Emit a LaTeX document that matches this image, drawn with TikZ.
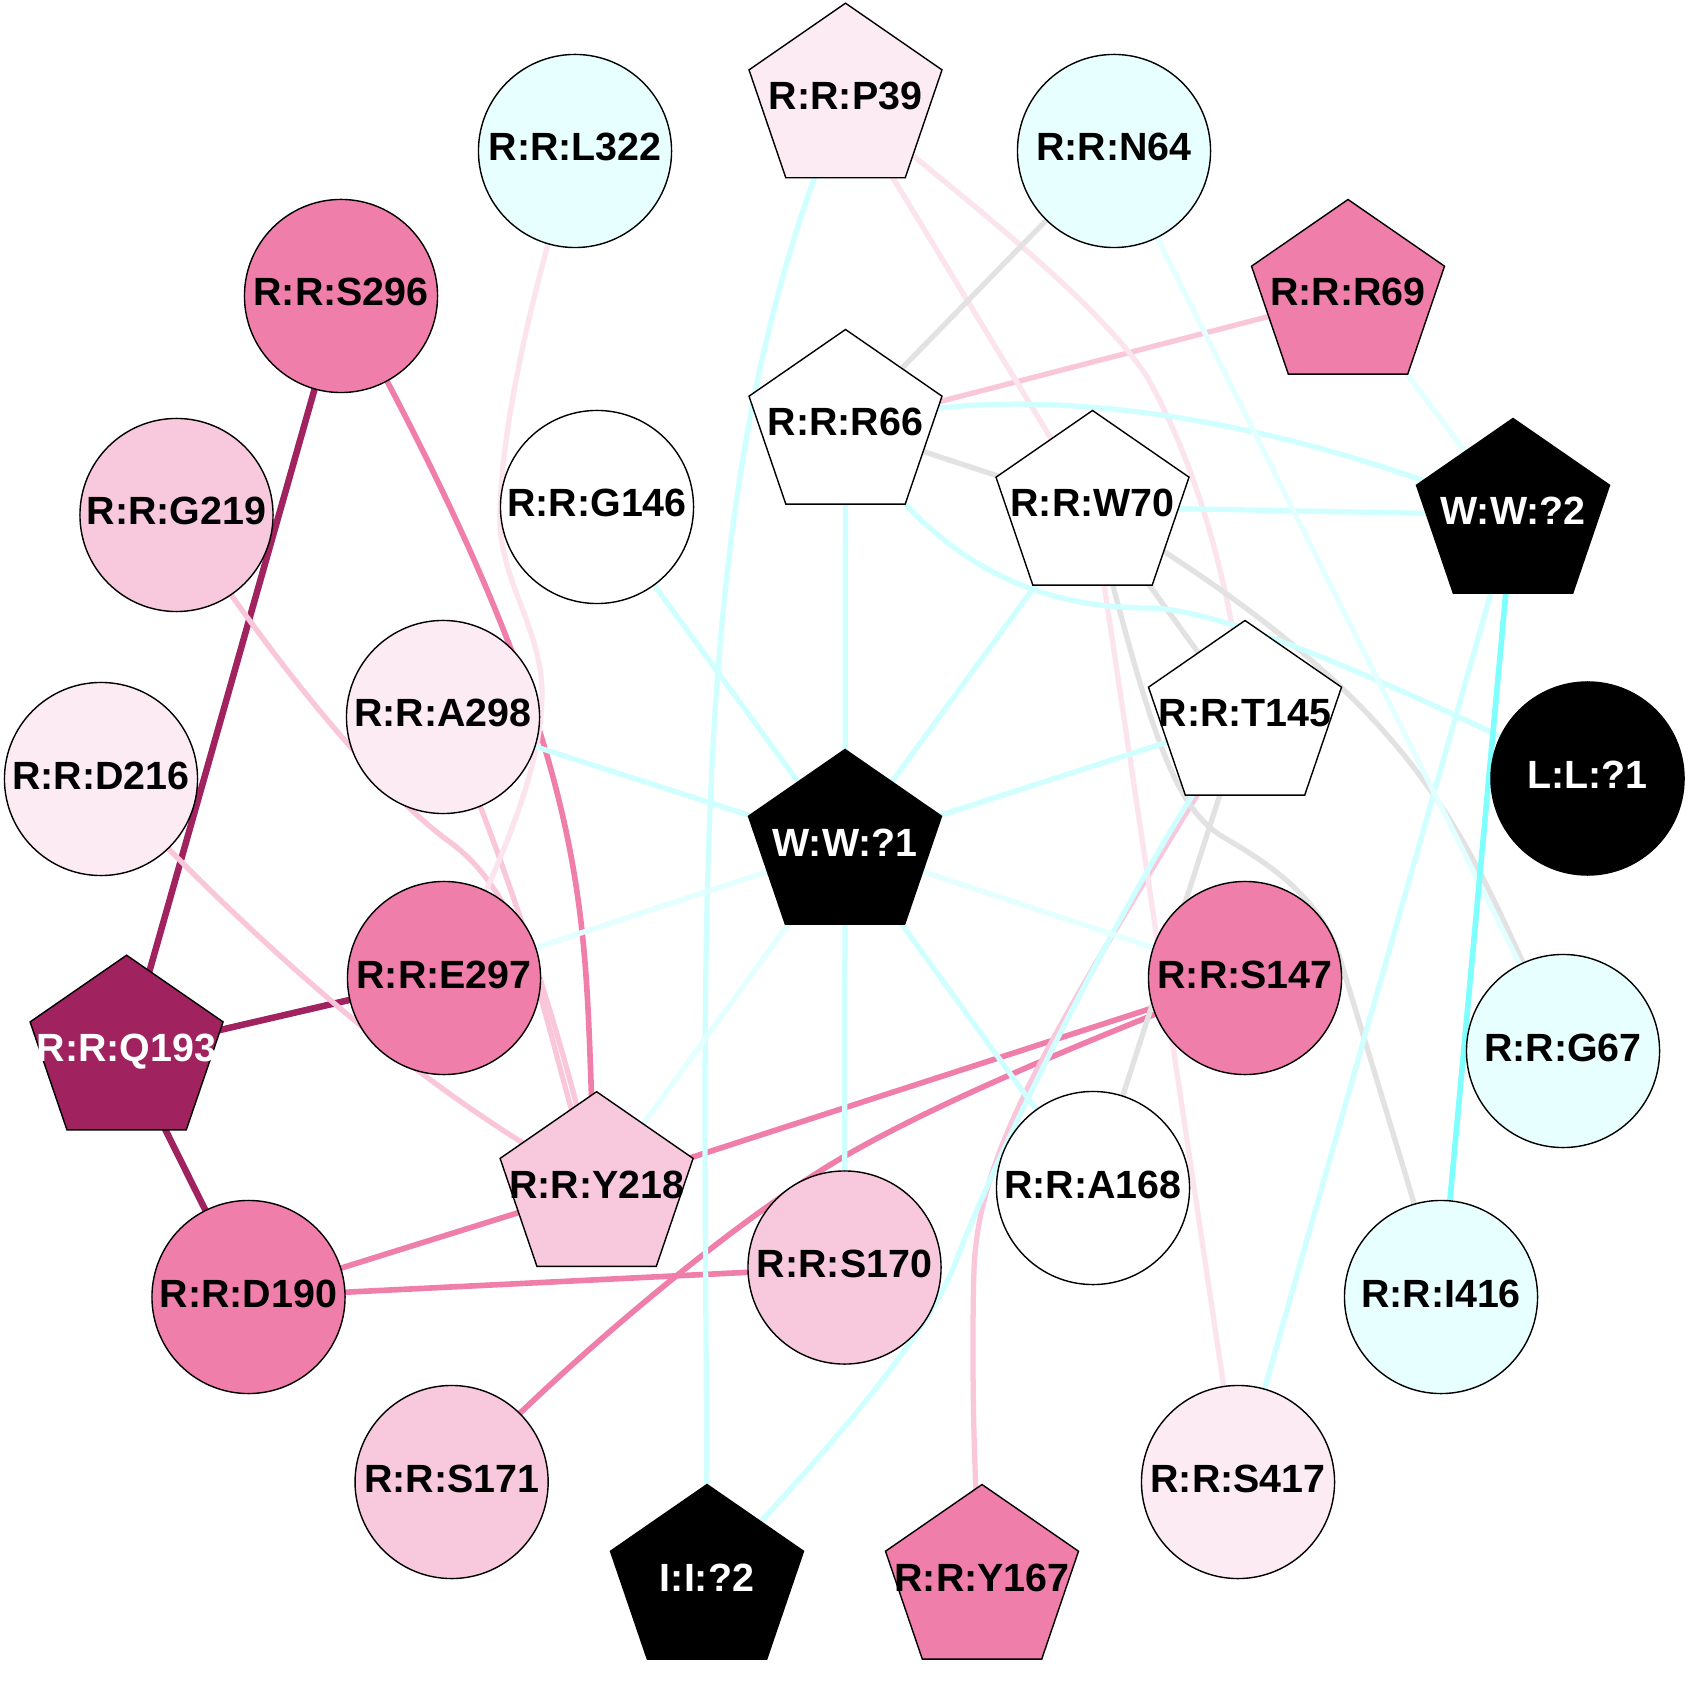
\documentclass[tikz,border=0pt]{standalone}
\usepackage{fontspec}
\setmainfont{Liberation Sans}
\pgfdeclarelayer{edges}
\pgfsetlayers{edges,main}
\definecolor{cHot}{HTML}{F07EAB}
\definecolor{cLP}{HTML}{F8C8DC}
\definecolor{cVLP}{HTML}{FCEBF3}
\definecolor{cDark}{HTML}{A0225E}
\definecolor{cLC}{HTML}{E8FFFF}
\definecolor{eLP}{HTML}{F9C6DA}
\definecolor{eVLP}{HTML}{FBE4EE}
\definecolor{eGrey}{HTML}{E2E2E2}
\definecolor{eCyan}{HTML}{D0FFFF}
\definecolor{eVLC}{HTML}{E4FFFF}
\definecolor{eBC}{HTML}{80FFFF}
\tikzset{
  cnode/.style={circle, draw=black, line width=0.4pt, minimum size=1.93cm, inner sep=0pt},
  lbl/.style={font=\fontsize{11.2}{13}\selectfont\bfseries, inner sep=0pt, anchor=base},
  pent/.style={draw=black, line width=0.4pt},
  edark/.style={draw=cDark, line width=1.85pt},
  ehot/.style={draw=cHot, line width=1.6pt},
  elp/.style={draw=eLP, line width=1.5pt},
  evlp/.style={draw=eVLP, line width=1.5pt},
  egrey/.style={draw=eGrey, line width=1.5pt},
  ecyan/.style={draw=eCyan, line width=1.5pt},
  evlc/.style={draw=eVLC, line width=1.5pt},
  ebc/.style={draw=eBC, line width=1.6pt}
}
\newcommand\circnode[6]{%
  \node[cnode,fill=#4] (#1) at (#2,#3) {};
  \node[lbl,text=#5] (#1-t) at ([shift={(0,10)}]#1.center) {#6};}
\newcommand\pentnode[6]{%
  \coordinate (#1) at (#2,#3);
  \filldraw[pent,fill=#4] ([shift={(0,-96.5)}]#1) -- ([shift={(96.5,-29.8)}]#1) -- ([shift={(59.7,78.1)}]#1) -- ([shift={(-59.7,78.1)}]#1) -- ([shift={(-96.5,-29.8)}]#1) -- cycle;
  \node[lbl,text=#5] (#1-t) at ([shift={(0,10)}]#1) {#6};}
\begin{document}
\begin{tikzpicture}[x=0.01cm,y=-0.01cm]
\useasboundingbox (0,0) rectangle (1689,1683);
% circles
\circnode{L322}{575}{151}{cLC}{black}{R:R:L322}
\circnode{N64}{1114}{151}{cLC}{black}{R:R:N64}
\circnode{S296}{341}{296}{cHot}{black}{R:R:S296}
\circnode{G219}{176.5}{515}{cLP}{black}{R:R:G219}
\circnode{G146}{597}{507}{white}{black}{R:R:G146}
\circnode{A298}{443}{717}{cVLP}{black}{R:R:A298}
\circnode{D216}{101}{779}{cVLP}{black}{R:R:D216}
\circnode{E297}{444}{978}{cHot}{black}{R:R:E297}
\circnode{S147}{1245}{978}{cHot}{black}{R:R:S147}
\circnode{L1}{1587.5}{778.5}{black}{white}{L:L:?1}
\circnode{G67}{1563}{1051}{cLC}{black}{R:R:G67}
\circnode{A168}{1093}{1188}{white}{black}{R:R:A168}
\circnode{S170}{844.5}{1267.5}{cLP}{black}{R:R:S170}
\circnode{D190}{248.5}{1297}{cHot}{black}{R:R:D190}
\circnode{I416}{1441}{1297}{cLC}{black}{R:R:I416}
\circnode{S171}{451.6}{1482}{cLP}{black}{R:R:S171}
\circnode{S417}{1238}{1482}{cVLP}{black}{R:R:S417}
% pentagons
\pentnode{P39}{845.5}{99.7}{cVLP}{black}{R:R:P39}
\pentnode{R69}{1348}{296}{cHot}{black}{R:R:R69}
\pentnode{R66}{845.5}{426}{white}{black}{R:R:R66}
\pentnode{W70}{1092.5}{507}{white}{black}{R:R:W70}
\pentnode{W2}{1513}{515}{black}{white}{W:W:?2}
\pentnode{T145}{1245}{717}{white}{black}{R:R:T145}
\pentnode{W1}{845}{846}{black}{white}{W:W:?1}
\pentnode{Q193}{126.6}{1051.7}{cDark}{white}{R:R:Q193}
\pentnode{Y218}{596.6}{1188.2}{cLP}{black}{R:R:Y218}
\pentnode{I2}{707}{1581}{black}{white}{I:I:?2}
\pentnode{Y167}{982}{1581}{cHot}{black}{R:R:Y167}
\begin{pgfonlayer}{edges}
\fill[white] (0,0) rectangle (1689,1683);
% dark
\draw[edark] (S296.center) -- (Q193.center);
\draw[edark] (Q193.center) -- (E297.center);
\draw[edark] (Q193.center) -- (D190.center);
% hot pink
\draw[ehot] (S296.center) .. controls (625,808) and (577,938) .. (Y218.center);
\draw[ehot] (D190.center) -- (Y218.center);
\draw[ehot] (D190.center) -- (S170.center);
\draw[ehot] (Y218.center) -- (S147.center);
\draw[ehot] (S171.center) .. controls (553.6,1372.5) and (732,1221) .. (845,1156) .. controls (958,1091) and (1124,1027) .. (S147.center);
% light pink
\draw[elp] (G219.center) .. controls (259,641) and (367,780) .. (447,840) .. controls (540,905) and (545,1050) .. (Y218.center);
\draw[elp] (D216.center) .. controls (370,1065) and (520,1140) .. (Y218.center);
\draw[elp] (A298.center) .. controls (495,830) and (565,1040) .. (Y218.center);
\draw[elp] (R66.center) -- (R69.center);
\draw[elp] (Y167.center) .. controls (972,1480) and (972,1330) .. (974,1269) .. controls (979,1149) and (1047,1040) .. (T145.center);
% very light pink
\draw[evlp] (L322.center) .. controls (538,271) and (500,420) .. (500,520) .. controls (500,580) and (542,630) .. (542,693) .. controls (542,760) and (511.5,844.5) .. (E297.center);
\draw[evlp] (P39.center) -- (W70.center);
\draw[evlp] (P39.center) .. controls (936.7,177.7) and (1092,293) .. (1147,377) .. controls (1187,446.6) and (1230,567) .. (T145.center);
\draw[evlp] (W70.center) -- (S417.center);
% grey
\draw[egrey] (R66.center) -- (N64.center);
\draw[egrey] (R66.center) -- (W70.center);
\draw[egrey] (W70.center) -- (T145.center);
\draw[egrey] (T145.center) -- (A168.center);
\draw[egrey] (W70.center) .. controls (1440,715) and (1462,835) .. (G67.center);
\draw[egrey] (W70.center) .. controls (1147.5,720) and (1171,806) .. (1223,837) .. controls (1275,867) and (1322,900) .. (1341,962) .. controls (1370,1058) and (1420,1220) .. (I416.center);
% cyan
\draw[ecyan] (P39.center) .. controls (677.5,486) and (707,931) .. (I2.center);
\draw[ecyan] (G146.center) -- (W1.center);
\draw[ecyan] (A298.center) -- (W1.center);
\draw[ecyan] (R66.center) -- (W1.center);
\draw[ecyan] (W1.center) -- (W70.center);
\draw[ecyan] (W1.center) -- (T145.center);
\draw[ecyan] (W1.center) -- (S170.center);
\draw[ecyan] (W1.center) -- (A168.center);
\draw[ecyan] (R66.center) .. controls (1000,380) and (1250,405) .. (W2.center);
\draw[ecyan] (W70.center) -- (W2.center);
\draw[ecyan] (R66.center) .. controls (930,560) and (1030,608) .. (1150,608) .. controls (1230,610) and (1407.5,690.5) .. (L1.center);
\draw[ecyan] (W2.center) -- (S417.center);
\draw[ecyan] (I2.center) .. controls (787,1492) and (913,1361) .. (953,1269) .. controls (1005.5,1128) and (1155,837) .. (T145.center);
% very light cyan
\draw[evlc] (W1.center) -- (E297.center);
\draw[evlc] (W1.center) -- (Y218.center);
\draw[evlc] (W1.center) -- (S147.center);
\draw[evlc] (N64.center) -- (G67.center);
\draw[evlc] (R69.center) -- (W2.center);
% bright cyan
\draw[ebc] (W2.center) -- (I416.center);
\end{pgfonlayer}
\end{tikzpicture}
\end{document}
